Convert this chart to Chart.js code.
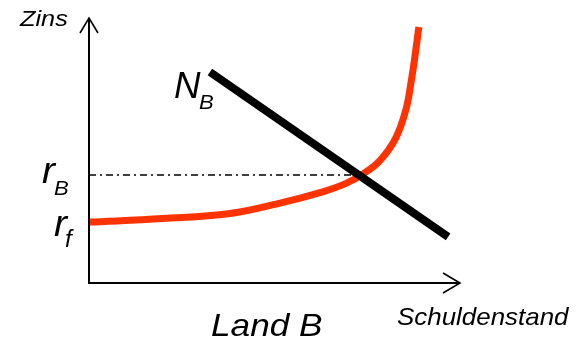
<!DOCTYPE html>
<html>
<head>
<meta charset="utf-8">
<script src="https://cdn.jsdelivr.net/npm/chart.js@4/dist/chart.umd.min.js"></script>
<style>
  html, body { margin: 0; padding: 0; background: #fff; }
  #wrap { width: 579px; height: 342px; }
</style>
</head>
<body>
<div id="wrap"><canvas id="chart" width="579" height="342"></canvas></div>
<script>
// Zinskurve (Risikoaufschlag steigt mit dem Schuldenstand)
var debtX   = [0, 20, 38, 52, 62, 69, 74, 78.4, 82.6, 85.4, 86.9, 87.9, 88.9]
var rateY   = [23.0, 24.3, 26.2, 30.3, 34.0, 37.4, 41.3, 46.2, 54.5, 65.3, 76.6, 86.0, 96.6]
// Nachfragegerade N_B
var demandX = [32.6, 96.8]
var demandY = [79.6, 17.4]
// Gleichgewichtszins r_B
var rBLevel = 40.8
var rBEndX  = 72

function pts(xs, ys) {
  var out = []
  for (let i = 0; i < xs.length; i++) out.push({x: xs[i], y: ys[i]})
  return out
}

function txt(ctx, s, x, y, size, sx) {
  ctx.save()
  ctx.translate(x, y)
  ctx.scale(sx || 1, 1)
  ctx.font = 'italic ' + size + 'px "Liberation Sans", Arial, sans-serif'
  ctx.fillStyle = '#000'
  ctx.textBaseline = 'alphabetic'
  ctx.fillText(s, 0, 0)
  ctx.restore()
}

var axesPlugin = {
  id: 'axes',
  afterDatasetsDraw(chart) {
    var ctx = chart.ctx
    var a = chart.chartArea
    var ys = chart.scales.y
    ctx.save()
    ctx.strokeStyle = '#000'
    ctx.lineWidth = 2
    ctx.beginPath()
    ctx.moveTo(a.left, a.top)
    ctx.lineTo(a.left, a.bottom)
    ctx.lineTo(a.right, a.bottom)
    ctx.stroke()
    // Pfeilspitzen
    ctx.lineWidth = 1.6
    ctx.beginPath()
    ctx.moveTo(a.left - 9, a.top + 15)
    ctx.lineTo(a.left, a.top)
    ctx.lineTo(a.left + 9, a.top + 15)
    ctx.moveTo(a.right - 17, a.bottom - 10)
    ctx.lineTo(a.right, a.bottom)
    ctx.lineTo(a.right - 17, a.bottom + 10)
    ctx.stroke()
    ctx.restore()

    var yB = ys.getPixelForValue(rBLevel)
    var yF = ys.getPixelForValue(rateY[0])
    txt(ctx, 'Zins', 20, 26, 22, 1.15)
    txt(ctx, 'N', 174, 98, 36, 1.02)
    txt(ctx, 'B', 199, 109, 21, 1.05)
    txt(ctx, 'r', 42, yB + 8, 37, 1.05)
    txt(ctx, 'B', 54, yB + 20, 21, 1.05)
    txt(ctx, 'r', 54, yF + 14, 37, 1.05)
    txt(ctx, 'f', 65, yF + 25, 23, 1.05)
    txt(ctx, 'Land B', 211, 336, 32, 1.1)
    txt(ctx, 'Schuldenstand', 397, 325, 24, 1.08)
  }
}

var ctx = document.getElementById('chart').getContext('2d')
var myChart = new Chart(ctx, {
  type: 'scatter',
  data: {
    datasets: [{
      label: 'N_B',
      data: pts(demandX, demandY),
      showLine: true,
      borderColor: '#000',
      borderWidth: 8,
      borderCapStyle: 'butt',
      pointRadius: 0,
      order: 0
    }, {
      label: 'Zins',
      data: pts(debtX, rateY),
      showLine: true,
      borderColor: '#ff3300',
      borderWidth: 7,
      tension: 0.4,
      pointRadius: 0,
      order: 1
    }, {
      label: 'r_B',
      data: [{x: 0, y: rBLevel}, {x: rBEndX, y: rBLevel}],
      showLine: true,
      borderColor: '#000',
      borderWidth: 1.5,
      borderDash: [7, 4, 2, 4],
      pointRadius: 0,
      order: 2
    }]
  },
  options: {
    responsive: false,
    animation: false,
    layout: { padding: { left: 89, right: 119, top: 18, bottom: 59 } },
    plugins: { legend: { display: false }, tooltip: { enabled: false } },
    scales: {
      x: { type: 'linear', min: 0, max: 100, display: false },
      y: { type: 'linear', min: 0, max: 100, display: false }
    }
  },
  plugins: [axesPlugin]
})
</script>
</body>
</html>
